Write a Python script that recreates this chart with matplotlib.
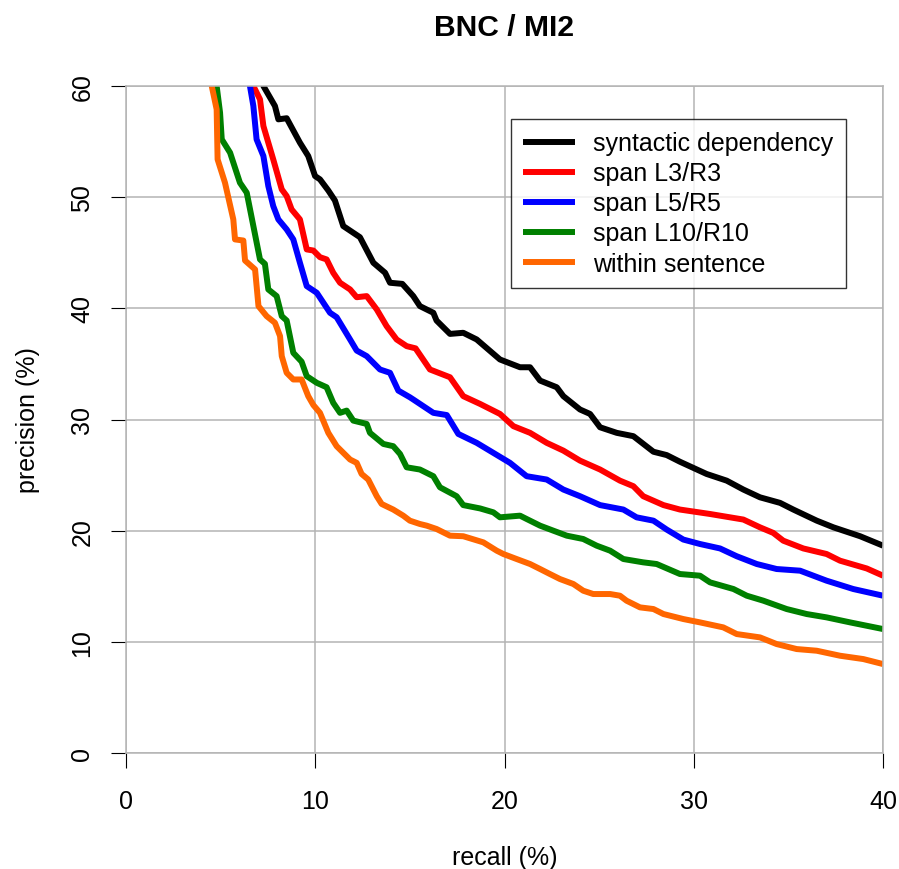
import numpy as np
import matplotlib
matplotlib.use("Agg")
import matplotlib.pyplot as plt

plt.rcParams['font.family'] = ['Liberation Sans', 'DejaVu Sans']

# recall (%) / precision (%)
syn_x = [7.1, 7.26, 7.87, 8.05, 8.49, 9.19, 9.63, 9.99, 10.25, 10.69, 11.04, 11.48, 12.36, 13.07,
         13.69, 13.95, 14.6, 15.18, 15.53, 16.24, 16.41, 17.12, 17.82, 18.53, 19.76, 20.82, 21.35,
         21.88, 22.76, 23.11, 23.99, 24.52, 25.05, 25.93, 26.81, 27.87, 28.57, 29.27, 30.68, 31.74,
         32.62, 33.5, 34.56, 35.26, 36.5, 37.38, 38.79, 40.0]
syn_y = [62, 60.0, 58.2, 57.0, 57.1, 54.9, 53.7, 51.9, 51.6, 50.6, 49.7, 47.4, 46.4, 44.1,
         43.2, 42.3, 42.2, 41.1, 40.2, 39.6, 38.9, 37.7, 37.8, 37.2, 35.4, 34.7, 34.7,
         33.5, 32.9, 32.1, 30.9, 30.5, 29.3, 28.8, 28.5, 27.1, 26.8, 26.2, 25.1, 24.5,
         23.7, 23.0, 22.5, 21.9, 20.9, 20.3, 19.5, 18.65]

l3_x = [6.6, 6.73, 7.08, 7.26, 7.78, 8.23, 8.49, 8.75, 9.19, 9.55, 9.9, 10.25, 10.6, 10.95, 11.31,
        11.84, 12.19, 12.72, 13.25, 13.77, 14.3, 14.83, 15.3, 16.06, 17.12, 17.82, 18.71, 19.76,
        20.47, 21.35, 22.23, 23.11, 23.99, 25.05, 26.1, 26.81, 27.33, 28.4, 29.27, 30.86, 32.62,
        33.5, 34.2, 34.73, 35.79, 37.02, 37.73, 39.14, 40.0]
l3_y = [62, 60.0, 58.8, 56.4, 53.4, 50.7, 50.1, 48.9, 48.0, 45.3, 45.2, 44.6, 44.4, 43.2, 42.3,
        41.7, 41.0, 41.1, 39.9, 38.4, 37.2, 36.6, 36.4, 34.5, 33.8, 32.1, 31.4, 30.5,
        29.4, 28.8, 27.9, 27.2, 26.3, 25.5, 24.5, 24.0, 23.1, 22.3, 21.9, 21.5, 21.0,
        20.3, 19.8, 19.1, 18.4, 17.9, 17.3, 16.6, 15.95]

l5_x = [6.45, 6.55, 6.73, 6.9, 7.26, 7.52, 7.78, 8.05, 8.49, 8.84, 9.19, 9.55, 10.08, 10.78, 11.13,
        11.84, 12.19, 12.72, 13.42, 13.95, 14.39, 15.0, 15.18, 16.24, 16.95, 17.56, 18.53, 19.41,
        20.29, 21.17, 22.23, 23.11, 23.99, 25.05, 26.28, 26.98, 27.87, 28.57, 29.45, 30.33, 31.39,
        32.27, 33.33, 34.38, 35.62, 37.02, 38.43, 40.0]
l5_y = [62, 60.0, 58.2, 55.2, 53.7, 51.0, 49.2, 48.0, 47.1, 46.2, 44.1, 42.0, 41.4, 39.6, 39.2,
        37.2, 36.2, 35.7, 34.5, 34.2, 32.6, 32.0, 31.8, 30.6, 30.4, 28.7, 27.9, 27.0,
        26.1, 24.9, 24.6, 23.7, 23.1, 22.3, 21.9, 21.2, 20.9, 20.1, 19.2, 18.8, 18.4,
        17.7, 17.0, 16.55, 16.4, 15.5, 14.75, 14.15]

l10_x = [4.7, 4.79, 4.97, 5.06, 5.5, 6.02, 6.38, 6.73, 7.08, 7.34, 7.52, 7.96, 8.23, 8.49, 8.84,
         9.28, 9.55, 10.08, 10.6, 10.95, 11.31, 11.66, 12.01, 12.72, 12.89, 13.6, 14.12, 14.48,
         14.83, 15.53, 16.24, 16.59, 17.47, 17.82, 18.71, 19.41, 19.76, 20.82, 21.17, 21.88, 22.58,
         23.29, 24.16, 24.87, 25.58, 26.28, 27.33, 28.04, 29.27, 30.33, 30.86, 32.1, 32.8, 33.68,
         34.91, 35.97, 37.02, 38.26, 40.0]
l10_y = [63, 60.0, 57.6, 55.2, 54.0, 51.3, 50.4, 47.4, 44.4, 44.0, 41.7, 41.1, 39.3, 38.9, 36.0,
         35.2, 33.9, 33.3, 32.9, 31.5, 30.6, 30.8, 29.9, 29.6, 28.8, 27.8, 27.6, 26.9,
         25.7, 25.5, 24.9, 23.9, 23.1, 22.3, 22.0, 21.65, 21.2, 21.35, 21.05, 20.45, 20.0,
         19.55, 19.25, 18.65, 18.2, 17.45, 17.15, 17.0, 16.1, 15.95, 15.35, 14.75, 14.15, 13.7,
         12.95, 12.5, 12.2, 11.75, 11.15]

sent_x = [4.45, 4.53, 4.79, 4.84, 5.23, 5.67, 5.76, 6.2, 6.29, 6.82, 7.0, 7.43, 7.87, 8.14, 8.23,
          8.49, 8.84, 9.28, 9.63, 9.9, 10.25, 10.69, 11.13, 11.84, 12.19, 12.45, 12.8, 13.25, 13.51,
          14.12, 14.65, 15.0, 15.53, 15.89, 16.41, 17.12, 17.82, 18.88, 19.59, 19.94, 20.64, 21.35,
          21.88, 22.4, 22.93, 23.64, 24.16, 24.69, 25.58, 26.1, 26.45, 27.16, 27.87, 28.4, 29.45,
          30.33, 31.56, 32.27, 33.5, 34.38, 35.44, 36.5, 37.73, 38.96, 40.0]
sent_y = [63, 60.0, 57.9, 53.4, 51.3, 48.0, 46.2, 46.1, 44.3, 43.5, 40.2, 39.3, 38.7, 37.5, 35.7,
          34.2, 33.6, 33.6, 32.1, 31.3, 30.6, 28.8, 27.6, 26.4, 26.1, 25.1, 24.6, 23.1, 22.4,
          21.9, 21.35, 20.9, 20.6, 20.45, 20.15, 19.55, 19.5, 18.95, 18.2, 17.9, 17.45, 17.0,
          16.55, 16.1, 15.65, 15.2, 14.6, 14.3, 14.3, 14.15, 13.7, 13.1, 12.95, 12.5, 12.05,
          11.75, 11.3, 10.7, 10.4, 9.8, 9.35, 9.2, 8.75, 8.45, 8.0]

labels = ['syntactic dependency', 'span L3/R3', 'span L5/R5', 'span L10/R10', 'within sentence']
colors = ['black', 'red', 'blue', '#008000', '#ff6600']
series = [(syn_x, syn_y), (l3_x, l3_y), (l5_x, l5_y), (l10_x, l10_y), (sent_x, sent_y)]

fig = plt.figure(figsize=(8.99, 8.70), dpi=100)
ax = fig.add_axes([126 / 899, 1 - 754 / 870, (883 - 126) / 899, (754 - 87) / 870])

# grid and frame in gray
ax.grid(True, color='#b4b4b4', linewidth=1.1)
ax.set_axisbelow(True)
for sp in ax.spines.values():
    sp.set_color('#b4b4b4')
    sp.set_linewidth(1.1)

for (x, y), c, lab in zip(series, colors, labels):
    ax.plot(x, y, color=c, lw=4.3, label=lab, solid_capstyle='butt', solid_joinstyle='round')

ax.set_xlim(0, 40)
ax.set_ylim(0, 60)
ax.set_xticks(np.arange(0, 41, 10))
ax.set_yticks(np.arange(0, 61, 10))
ax.tick_params(direction='out', length=10.8, width=0.8, color='black', labelsize=18)
ax.tick_params(axis='x', pad=15)
ax.tick_params(axis='y', pad=12)
for t in ax.get_yticklabels():
    t.set_rotation(90)
    t.set_va('center')

ax.set_xlabel('recall (%)', fontsize=18, labelpad=23)
ax.set_ylabel('precision (%)', fontsize=18, labelpad=22)
fig.text(504.5 / 899, 1 - 28 / 870, 'BNC / MI2', fontsize=21.6, fontweight='bold',
         ha='center', va='center')

leg = ax.legend(loc='upper right', bbox_to_anchor=(846 / 899, 1 - 120 / 870),
                bbox_transform=fig.transFigure, fontsize=18, frameon=True, fancybox=False,
                handlelength=2.05, handletextpad=0.75, labelspacing=0.24, borderpad=0.5,
                borderaxespad=0)
leg.get_frame().set_edgecolor('black')
leg.get_frame().set_linewidth(1.0)
for h in leg.get_lines():
    h.set_linewidth(4.3)

fig.savefig('out.png', dpi=100)
